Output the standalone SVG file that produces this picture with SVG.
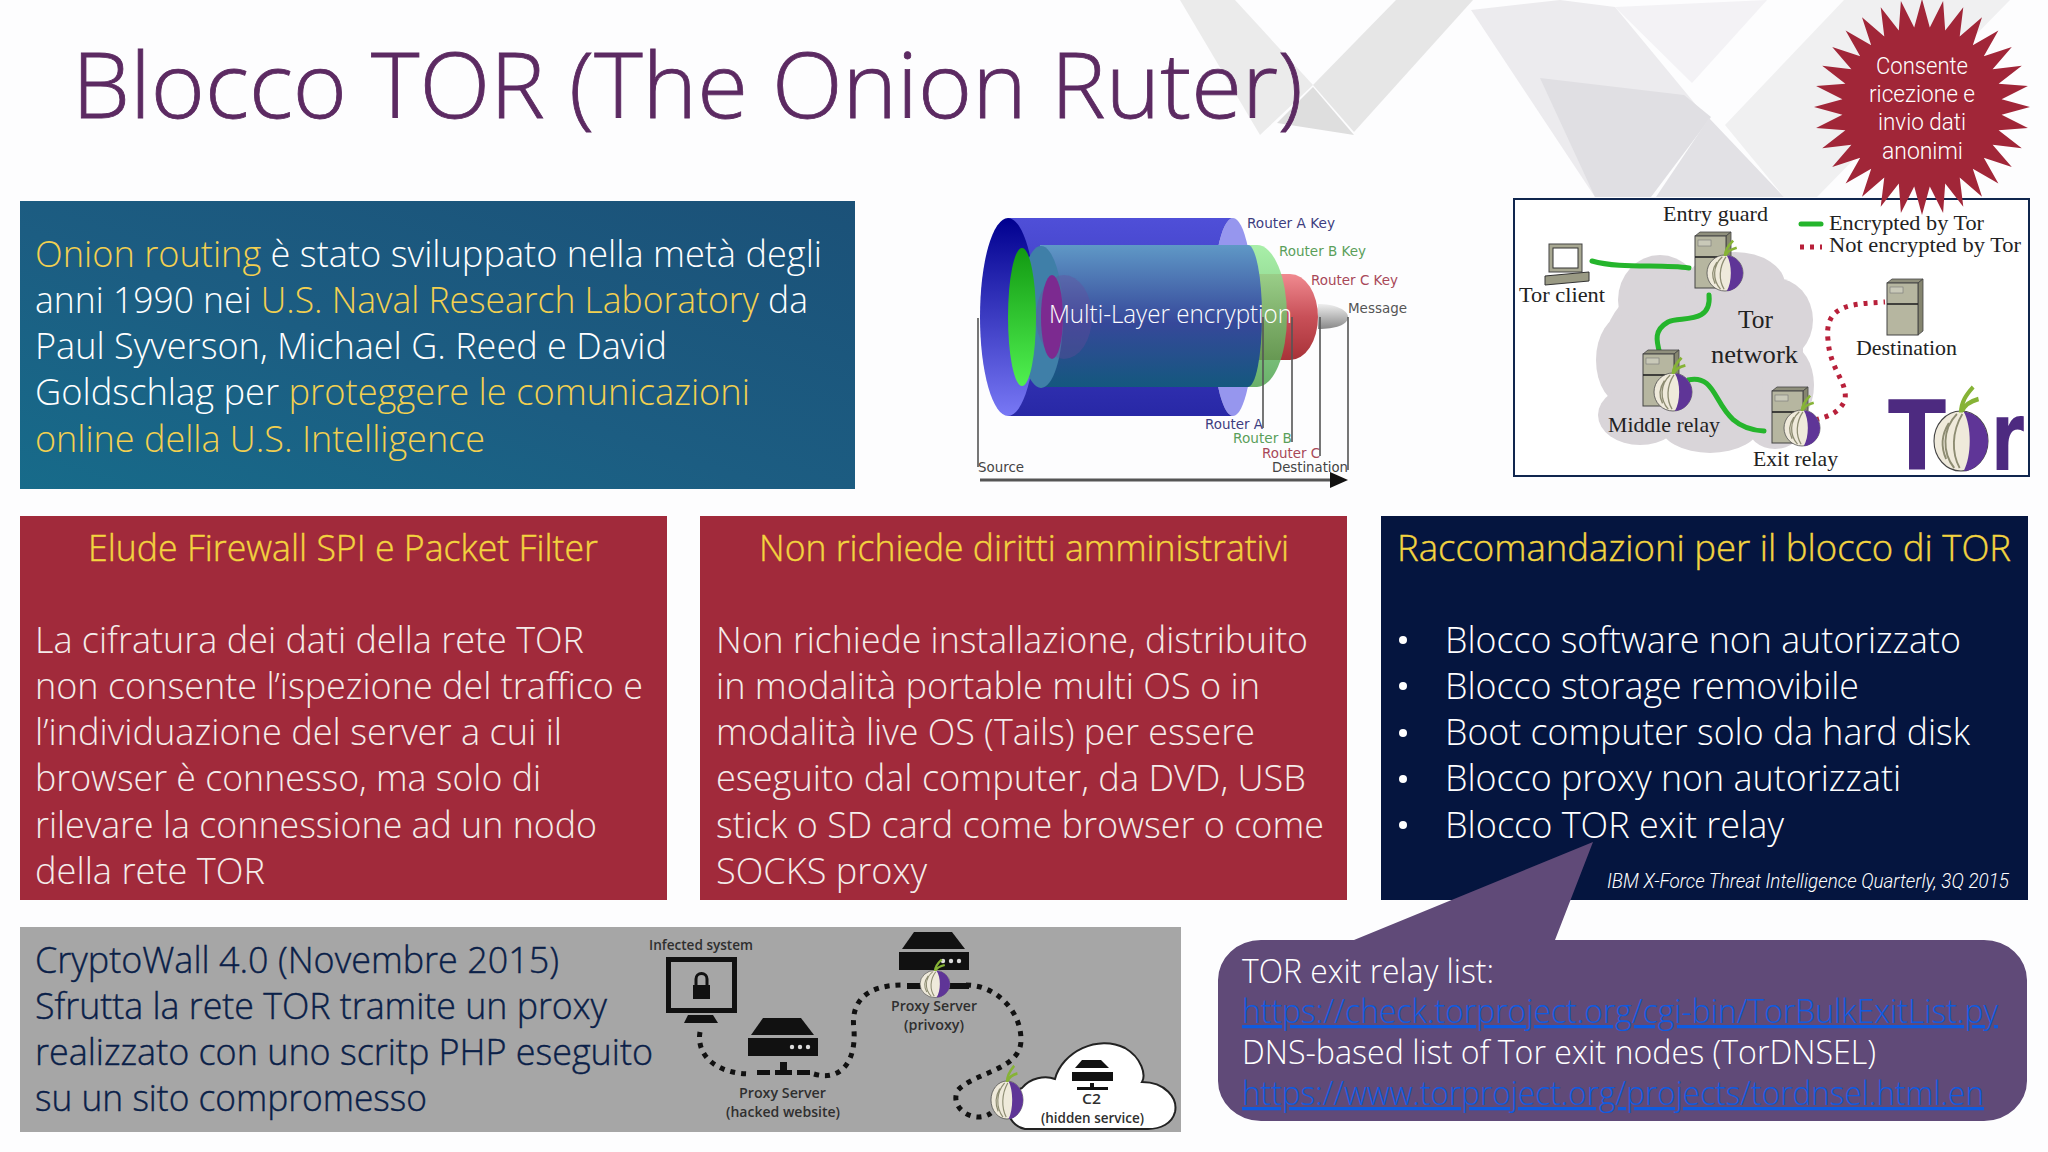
<svg xmlns="http://www.w3.org/2000/svg" width="2048" height="1152" viewBox="0 0 2048 1152">
<style>
text{font-family:"Open Sans","Noto Sans",sans-serif;font-weight:300}
.b{font-size:36px;fill:#f4ecea}
.w{font-size:36px;fill:#fff}
.y{fill:#f3d050}
.n{font-size:36px;fill:#0a2048;stroke:#0a2048;stroke-width:.4}
.h{font-size:36px;fill:#f3d43f;stroke:#f3d43f;stroke-width:.4}
.s{font-family:Roboto,sans-serif;font-size:23px;fill:#fff}
.l{font-size:33px;fill:#fff}
.u{font-size:33px;fill:#0f5be0;text-decoration:underline}
.serif{font-family:"Liberation Serif",serif;font-weight:400;fill:#222;font-size:22px}
.dj{font-family:"DejaVu Sans",sans-serif;font-weight:400;font-size:14px}
.cw{font-family:"Open Sans",sans-serif;font-weight:600;font-size:14px;fill:#2f2f2f}
.gl{fill:none;stroke:#25b52c;stroke-width:5;stroke-linecap:round}
.rd{fill:none;stroke:#b8203a;stroke-width:5;stroke-dasharray:4 6}
.bk{fill:none;stroke:#111;stroke-width:5;stroke-dasharray:5 6}
.pin{fill:none;stroke:#555;stroke-width:1.6}
</style>
<defs>
<linearGradient id="gBlue" x1="0" y1="1" x2="1" y2="0"><stop offset="0" stop-color="#176b8a"/><stop offset="0.45" stop-color="#1c5d82"/><stop offset="1" stop-color="#1b5178"/></linearGradient>
<linearGradient id="gBody" x1="0" y1="0" x2="0" y2="1"><stop offset="0" stop-color="#4f4fd8"/><stop offset="1" stop-color="#2828a6"/></linearGradient>
<linearGradient id="gFace" x1="0" y1="0" x2="0" y2="1"><stop offset="0" stop-color="#00008f"/><stop offset="1" stop-color="#7878f5"/></linearGradient>
<linearGradient id="gBand" x1="0" y1="0" x2="0" y2="1"><stop offset="0" stop-color="#5f98c6"/><stop offset="0.55" stop-color="#36489a"/><stop offset="1" stop-color="#14587e"/></linearGradient>
<linearGradient id="gGreen" x1="0" y1="0" x2="0" y2="1"><stop offset="0" stop-color="#96ec96"/><stop offset="1" stop-color="#4aa04a"/></linearGradient>
<linearGradient id="gGreen2" x1="0" y1="0" x2="0" y2="1"><stop offset="0" stop-color="#129a12"/><stop offset="1" stop-color="#50f050"/></linearGradient>
<linearGradient id="gRed" x1="0" y1="0" x2="0" y2="1"><stop offset="0" stop-color="#f08a90"/><stop offset="0.5" stop-color="#c85058"/><stop offset="1" stop-color="#a83238"/></linearGradient>
<linearGradient id="gMsg" x1="0" y1="0" x2="0" y2="1"><stop offset="0" stop-color="#eee"/><stop offset="1" stop-color="#888"/></linearGradient>
<g id="onion">
<ellipse rx="20" ry="20" fill="#efeadb" stroke="#444" stroke-width="0.8"/>
<path d="M2,-19.5C13,-19 20,-9 20,0C20,11 11,20 2,20C8,10 8,-10 2,-19.5Z" fill="#5f3597"/>
<path d="M-3,-18C-14,-8 -14,8 -5,18M1,-18C-7,-6 -7,8 -1,18M-9,-12C-16,-2 -14,6 -11,12" fill="none" stroke="#8d8c72" stroke-width="1.4"/>
<path d="M0,-19C0,-26 4,-31 9,-36M1,-20C3,-25 9,-27 13,-28" fill="none" stroke="#86b336" stroke-width="3"/>
</g>
<g id="srv">
<polygon points="0,4 5,0 36,0 31,4" fill="#8f8f7c" stroke="#444" stroke-width="0.8"/>
<polygon points="31,4 36,0 36,52 31,56" fill="#85856f" stroke="#444" stroke-width="0.8"/>
<rect y="4" width="31" height="52" fill="#b6b6a0" stroke="#444" stroke-width="1"/>
<rect x="3" y="8" width="13" height="6" fill="#c9c9b8" stroke="#777" stroke-width="0.6"/>
<line x1="0" y1="25" x2="31" y2="25" stroke="#222" stroke-width="1.6"/>
</g>
<g id="bsrv">
<polygon points="15,0 53,0 66,17 3,17" fill="#111"/>
<rect y="20" width="70" height="18" fill="#111"/>
<circle cx="44" cy="29" r="2.2" fill="#ddd"/><circle cx="52" cy="29" r="2.2" fill="#ddd"/><circle cx="60" cy="29" r="2.2" fill="#ddd"/>
</g>
</defs>

<rect width="2048" height="1152" fill="#fdfdfe"/>

<g id="background">
<polygon points="1180,0 1235,0 1313,85 1260,135" fill="#ebebeb"/>
<polygon points="1396,0 1473,0 1354,132 1313,85" fill="#e6e6e6"/>
<polygon points="1313,87 1354,135 1277,123" fill="#dedede"/>
<polygon points="1471,10 1560,0 1615,7 1706,117 1650,197 1595,197" fill="#ecebee"/>
<polygon points="1615,7 1767,0 1692,83" fill="#f3f2f5"/>
<polygon points="1540,78 1684,95 1711,117 1651,197 1595,197" fill="#e0dfe3"/>
<polygon points="1725,125 1844,0 2010,0 1817,197 1784,197" fill="#f0f0f1"/>
<polygon points="1709,118 1784,197 1656,197" fill="#e2e1e5"/>
</g>

<text id="title" x="72" y="117.500" textLength="1231" lengthAdjust="spacingAndGlyphs" style="font-size:91px;fill:#5c2a62;stroke:#5c2a62;stroke-width:.8">Blocco TOR (The Onion Ruter)</text>

<g id="node-history">
<rect x="20" y="201" width="835" height="288" fill="url(#gBlue)"/>
<text class="w" x="35" y="267" textLength="787" lengthAdjust="spacingAndGlyphs"><tspan class="y">Onion routing</tspan> è stato sviluppato nella metà degli</text>
<text class="w" x="35" y="313" textLength="773" lengthAdjust="spacingAndGlyphs">anni 1990 nei <tspan class="y">U.S. Naval Research Laboratory</tspan> da</text>
<text class="w" x="35" y="359" textLength="632" lengthAdjust="spacingAndGlyphs">Paul Syverson, Michael G. Reed e David</text>
<text class="w" x="35" y="405" textLength="715" lengthAdjust="spacingAndGlyphs">Goldschlag per <tspan class="y">proteggere le comunicazioni</tspan></text>
<text class="w y" x="35" y="452" textLength="450" lengthAdjust="spacingAndGlyphs">online della U.S. Intelligence</text>
</g>

<g id="node-firewall">
<rect x="20" y="516" width="647" height="384" fill="#a12a3b"/>
<text class="h" x="88" y="561" textLength="510" lengthAdjust="spacingAndGlyphs">Elude Firewall SPI e Packet Filter</text>
<text class="b" x="35" y="653" textLength="549" lengthAdjust="spacingAndGlyphs">La cifratura dei dati della rete TOR</text>
<text class="b" x="35" y="699" textLength="608" lengthAdjust="spacingAndGlyphs">non consente l’ispezione del traffico e</text>
<text class="b" x="35" y="745" textLength="527" lengthAdjust="spacingAndGlyphs">l’individuazione del server a cui il</text>
<text class="b" x="35" y="791" textLength="506" lengthAdjust="spacingAndGlyphs">browser è connesso, ma solo di</text>
<text class="b" x="35" y="838" textLength="562" lengthAdjust="spacingAndGlyphs">rilevare la connessione ad un nodo</text>
<text class="b" x="35" y="884" textLength="230" lengthAdjust="spacingAndGlyphs">della rete TOR</text>
</g>

<g id="node-admin">
<rect x="700" y="516" width="647" height="384" fill="#a12a3b"/>
<text class="h" x="759" y="561" textLength="530" lengthAdjust="spacingAndGlyphs">Non richiede diritti amministrativi</text>
<text class="b" x="716" y="653" textLength="592" lengthAdjust="spacingAndGlyphs">Non richiede installazione, distribuito</text>
<text class="b" x="716" y="699" textLength="544" lengthAdjust="spacingAndGlyphs">in modalità portable multi OS o in</text>
<text class="b" x="716" y="745" textLength="539" lengthAdjust="spacingAndGlyphs">modalità live OS (Tails) per essere</text>
<text class="b" x="716" y="791" textLength="590" lengthAdjust="spacingAndGlyphs">eseguito dal computer, da DVD, USB</text>
<text class="b" x="716" y="838" textLength="608" lengthAdjust="spacingAndGlyphs">stick o SD card come browser o come</text>
<text class="b" x="716" y="884" textLength="211" lengthAdjust="spacingAndGlyphs">SOCKS proxy</text>
</g>

<g id="node-recommendations">
<rect x="1381" y="516" width="647" height="384" fill="#05153f"/>
<text class="h" x="1397" y="561" textLength="614" lengthAdjust="spacingAndGlyphs">Raccomandazioni per il blocco di TOR</text>
<g fill="#fff"><circle cx="1403" cy="640" r="4"/><circle cx="1403" cy="686" r="4"/><circle cx="1403" cy="733" r="4"/><circle cx="1403" cy="779" r="4"/><circle cx="1403" cy="825" r="4"/></g>
<text class="w" x="1445" y="653" textLength="516" lengthAdjust="spacingAndGlyphs">Blocco software non autorizzato</text>
<text class="w" x="1445" y="699" textLength="414" lengthAdjust="spacingAndGlyphs">Blocco storage removibile</text>
<text class="w" x="1445" y="745" textLength="525" lengthAdjust="spacingAndGlyphs">Boot computer solo da hard disk</text>
<text class="w" x="1445" y="791" textLength="456" lengthAdjust="spacingAndGlyphs">Blocco proxy non autorizzati</text>
<text class="w" x="1445" y="838" textLength="339" lengthAdjust="spacingAndGlyphs">Blocco TOR exit relay</text>
<text x="1607" y="888" textLength="402" lengthAdjust="spacingAndGlyphs" style="font-family:Roboto,sans-serif;font-size:20px;fill:#fff;font-style:italic">IBM X-Force Threat Intelligence Quarterly, 3Q 2015</text>
</g>

<g id="node-exit-list">
<path d="M1593,842L1354,940H1261A43,40 0 0 0 1218,980V1081A43,40 0 0 0 1261,1121H1984A43,40 0 0 0 2027,1081V980A43,40 0 0 0 1984,940H1555Z" fill="#604a78"/>
<text class="l" x="1242" y="983" textLength="252" lengthAdjust="spacingAndGlyphs">TOR exit relay list:</text>
<text class="u" x="1242" y="1023" textLength="756" lengthAdjust="spacingAndGlyphs">https://check.torproject.org/cgi-bin/TorBulkExitList.py</text>
<text class="l" x="1242" y="1064" textLength="634" lengthAdjust="spacingAndGlyphs">DNS-based list of Tor exit nodes (TorDNSEL)</text>
<text class="u" x="1242" y="1105" textLength="742" lengthAdjust="spacingAndGlyphs">https://www.torproject.org/projects/tordnsel.html.en</text>
</g>

<g id="node-layers">
<path d="M1318,304C1335,304 1348,310 1348,317C1348,325 1335,329 1318,329Z" fill="url(#gMsg)"/>
<ellipse cx="1233" cy="317" rx="21" ry="99" fill="#9696ee"/>
<path d="M1240,274H1290A28,43 0 0 1 1290,360H1240Z" fill="url(#gRed)"/>
<path d="M1240,245H1257A30,71 0 0 1 1257,387H1240Z" fill="url(#gGreen)" fill-opacity="0.82"/>
<path d="M1008,218H1233A21,99 0 0 0 1233,416H1008Z" fill="url(#gBody)"/>
<ellipse cx="1008" cy="317" rx="28" ry="99" fill="url(#gFace)"/>
<path d="M1040,245H1248A14,71 0 0 1 1248,387H1040Z" fill="url(#gBand)"/>
<ellipse cx="1041" cy="317" rx="22" ry="71" fill="#3f7fa8"/>
<ellipse cx="1022" cy="317" rx="14" ry="69" fill="url(#gGreen2)"/>
<ellipse cx="1064" cy="317" rx="28" ry="42" fill="#6a4a9a" fill-opacity="0.35"/>
<ellipse cx="1052" cy="317" rx="11" ry="42" fill="#7c2a90"/>
<text x="1049" y="323" textLength="243" lengthAdjust="spacingAndGlyphs" style="font-size:26px;fill:#fff">Multi-Layer encryption</text>
<text class="dj" x="1247" y="228" textLength="88" lengthAdjust="spacingAndGlyphs" fill="#3d3d80">Router A Key</text>
<text class="dj" x="1279" y="256" textLength="87" lengthAdjust="spacingAndGlyphs" fill="#5a9f5a">Router B Key</text>
<text class="dj" x="1311" y="285" textLength="87" lengthAdjust="spacingAndGlyphs" fill="#a84858">Router C Key</text>
<text class="dj" x="1348" y="313" textLength="59" lengthAdjust="spacingAndGlyphs" fill="#555">Message</text>
<text class="dj" x="1205" y="429" textLength="58" lengthAdjust="spacingAndGlyphs" fill="#3d3d80">Router A</text>
<text class="dj" x="1233" y="443" textLength="59" lengthAdjust="spacingAndGlyphs" fill="#5a9f5a">Router B</text>
<text class="dj" x="1262" y="458" textLength="58" lengthAdjust="spacingAndGlyphs" fill="#a84858">Router C</text>
<text class="dj" x="978" y="472" textLength="46" lengthAdjust="spacingAndGlyphs" fill="#444">Source</text>
<text class="dj" x="1272" y="472" textLength="76" lengthAdjust="spacingAndGlyphs" fill="#444">Destination</text>
</g>

<g id="node-tor-diagram">
<rect x="1514" y="199" width="515" height="277" fill="#fff" stroke="#10264e" stroke-width="2"/>
<g fill="#d9d5d9">
<ellipse cx="1703" cy="350" rx="100" ry="80"/><ellipse cx="1660" cy="300" rx="42" ry="45"/><ellipse cx="1735" cy="285" rx="50" ry="33"/><ellipse cx="1775" cy="320" rx="38" ry="42"/><ellipse cx="1625" cy="360" rx="29" ry="45"/><ellipse cx="1640" cy="415" rx="42" ry="30"/><ellipse cx="1710" cy="425" rx="50" ry="28"/><ellipse cx="1788" cy="385" rx="26" ry="40"/><ellipse cx="1775" cy="425" rx="28" ry="24"/>
</g>
</g>

<g id="connectors">
<path class="gl" d="M1592,261C1620,269 1660,264 1689,268"/>
<path class="gl" d="M1709,295C1712,325 1680,316 1668,322C1654,330 1656,340 1660,354"/>
<path class="gl" d="M1688,380C1724,372 1710,428 1764,431"/>
<path class="rd" d="M1815,420C1830,416 1840,412 1845,400C1848,382 1830,370 1828,340C1824,305 1850,304 1885,302"/>
<path class="gl" d="M1801,224H1821"/>
<path class="rd" d="M1800,247H1822"/>
<path class="pin" d="M978,318V467M1263,317V428M1292,317V442M1320,317V456M1348,317V470"/>
<path d="M980,480H1332" stroke="#555" stroke-width="3" fill="none"/>
<polygon points="1330,472 1348,480 1330,488" fill="#111"/>
</g>

<g id="node-entry-guard">
<use href="#srv" x="1695" y="232"/>
<use href="#onion" transform="translate(1725,273) scale(.9)"/>
<text class="serif" x="1663" y="221" textLength="105" lengthAdjust="spacingAndGlyphs">Entry guard</text>
</g>
<g id="node-client">
<rect x="1549" y="244" width="33" height="28" fill="#a8a892" stroke="#444"/>
<rect x="1553" y="248" width="25" height="20" fill="#fff" stroke="#333"/>
<polygon points="1545,276 1589,272 1589,281 1545,285" fill="#9a9a84" stroke="#333"/>
<text class="serif" x="1519" y="302" textLength="86" lengthAdjust="spacingAndGlyphs">Tor client</text>
</g>
<g id="node-network">
<text class="serif" x="1738" y="328" textLength="35" lengthAdjust="spacingAndGlyphs" style="font-size:25px">Tor</text>
<text class="serif" x="1711" y="363" textLength="87" lengthAdjust="spacingAndGlyphs" style="font-size:25px">network</text>
</g>
<g id="node-middle">
<use href="#srv" x="1643" y="350"/>
<use href="#onion" transform="translate(1673,392) scale(.95)"/>
<text class="serif" x="1608" y="432" textLength="112" lengthAdjust="spacingAndGlyphs">Middle relay</text>
</g>
<g id="node-exit">
<use href="#srv" x="1772" y="387"/>
<use href="#onion" transform="translate(1802,428) scale(.9)"/>
<text class="serif" x="1753" y="466" textLength="85" lengthAdjust="spacingAndGlyphs">Exit relay</text>
</g>
<g id="node-destination">
<use href="#srv" x="1887" y="279"/>
<text class="serif" x="1856" y="355" textLength="101" lengthAdjust="spacingAndGlyphs">Destination</text>
</g>
<g id="node-legend">
<text class="serif" x="1829" y="230" textLength="155" lengthAdjust="spacingAndGlyphs">Encrypted by Tor</text>
<text class="serif" x="1829" y="252" textLength="192" lengthAdjust="spacingAndGlyphs">Not encrypted by Tor</text>
</g>
<g id="node-tor-logo">
<text x="1888" y="470" textLength="58" lengthAdjust="spacingAndGlyphs" style="font-family:'DejaVu Sans',sans-serif;font-weight:700;font-size:97px;fill:#4d2a80">T</text>
<text x="1991" y="470" textLength="33" lengthAdjust="spacingAndGlyphs" style="font-family:'DejaVu Sans',sans-serif;font-weight:700;font-size:97px;fill:#4d2a80">r</text>
<use href="#onion" transform="translate(1961,441) scale(1.35,1.5)"/>
</g>

<g id="node-star">
<polygon transform="translate(1922,107)" fill="#a12638" points="0,-108 7.8,-79.6 21.1,-105.9 23.2,-76.6 41.3,-99.8 37.7,-70.6 60,-89.8 50.8,-61.8 76.4,-76.4 61.8,-50.8 89.8,-60 70.6,-37.7 99.8,-41.3 76.6,-23.2 105.9,-21.1 79.6,-7.8 108,0 79.6,7.8 105.9,21.1 76.6,23.2 99.8,41.3 70.6,37.7 89.8,60 61.8,50.8 76.4,76.4 50.8,61.8 60,89.8 37.7,70.6 41.3,99.8 23.2,76.6 21.1,105.9 7.8,79.6 0,108 -7.8,79.6 -21.1,105.9 -23.2,76.6 -41.3,99.8 -37.7,70.6 -60,89.8 -50.8,61.8 -76.4,76.4 -61.8,50.8 -89.8,60 -70.6,37.7 -99.8,41.3 -76.6,23.2 -105.9,21.1 -79.6,7.8 -108,0 -79.6,-7.8 -105.9,-21.1 -76.6,-23.2 -99.8,-41.3 -70.6,-37.7 -89.8,-60 -61.8,-50.8 -76.4,-76.4 -50.8,-61.8 -60,-89.8 -37.7,-70.6 -41.3,-99.8 -23.2,-76.6 -21.1,-105.9 -7.8,-79.6"/>
<text class="s" x="1876" y="74" textLength="92" lengthAdjust="spacingAndGlyphs">Consente</text>
<text class="s" x="1869" y="102" textLength="106" lengthAdjust="spacingAndGlyphs">ricezione e</text>
<text class="s" x="1878" y="130" textLength="88" lengthAdjust="spacingAndGlyphs">invio dati</text>
<text class="s" x="1882" y="159" textLength="81" lengthAdjust="spacingAndGlyphs">anonimi</text>
</g>

<g id="node-cryptowall">
<rect x="20" y="927" width="1161" height="205" fill="#a6a6a6"/>
<text class="n" x="35" y="973" textLength="524" lengthAdjust="spacingAndGlyphs">CryptoWall 4.0 (Novembre 2015)</text>
<text class="n" x="35" y="1019" textLength="572" lengthAdjust="spacingAndGlyphs">Sfrutta la rete TOR tramite un proxy</text>
<text class="n" x="35" y="1065" textLength="618" lengthAdjust="spacingAndGlyphs">realizzato con uno scritp PHP eseguito</text>
<text class="n" x="35" y="1111" textLength="392" lengthAdjust="spacingAndGlyphs">su un sito compromesso</text>
</g>
<g id="node-infected">
<rect x="668.500" y="959.500" width="66" height="51" fill="none" stroke="#111" stroke-width="5"/>
<rect x="693" y="985" width="17" height="14" fill="#111"/>
<path d="M696,985V979A5.5,5.5 0 0 1 707,979V985" fill="none" stroke="#111" stroke-width="3"/>
<polygon points="688,1015 713,1015 718,1023 684,1023" fill="#111"/>
<text class="cw" x="649" y="950" textLength="104" lengthAdjust="spacingAndGlyphs">Infected system</text>
</g>
<g id="cw-connectors">
<path class="bk" d="M700,1032C696,1055 716,1074 751,1074"/>
<path class="bk" d="M814,1074C842,1082 856,1060 854,1030C850,1000 868,985 903,985"/>
<path class="bk" d="M966,985C995,985 1021,1010 1021,1040C1021,1070 975,1072 958,1090C948,1108 975,1125 991,1113"/>
</g>
<g id="node-proxy-hacked">
<use href="#bsrv" x="748" y="1018"/>
<path d="M757,1070H770V1075H757ZM797,1070H810V1075H797Z" fill="#111"/>
<rect x="775" y="1070" width="17" height="5" fill="#111"/>
<rect x="780" y="1062" width="7" height="9" fill="#111"/>
<text class="cw" x="739" y="1098" textLength="87" lengthAdjust="spacingAndGlyphs">Proxy Server</text>
<text class="cw" x="726" y="1117" textLength="114" lengthAdjust="spacingAndGlyphs">(hacked website)</text>
</g>
<g id="node-proxy-privoxy">
<use href="#bsrv" x="899" y="932"/>
<rect x="907" y="983" width="62" height="6" fill="#111"/>
<use href="#onion" transform="translate(935,984) scale(.75,.68)"/>
<text class="cw" x="891" y="1011" textLength="86" lengthAdjust="spacingAndGlyphs">Proxy Server</text>
<text class="cw" x="904" y="1030" textLength="60" lengthAdjust="spacingAndGlyphs">(privoxy)</text>
</g>
<g id="node-c2">
<path d="M1025,1129C1004,1125 1002,1095 1022,1088C1030,1078 1045,1075 1055,1079C1062,1052 1098,1034 1125,1048C1142,1058 1146,1075 1142,1082C1165,1082 1178,1098 1175,1112C1172,1124 1160,1129 1148,1129Z" fill="#fff" stroke="#222" stroke-width="2"/>
<polygon points="1082,1060 1101,1060 1109,1068 1075,1068" fill="#111"/>
<rect x="1072" y="1072" width="41" height="9" fill="#111"/>
<rect x="1077" y="1087" width="31" height="3" fill="#111"/>
<rect x="1090" y="1083" width="4" height="5" fill="#111"/>
<use href="#onion" transform="translate(1007,1100) scale(.8,.95)"/>
<text class="cw" x="1082" y="1104" textLength="19" lengthAdjust="spacingAndGlyphs">C2</text>
<text class="cw" x="1041" y="1123" textLength="103" lengthAdjust="spacingAndGlyphs">(hidden service)</text>
</g>
</svg>
